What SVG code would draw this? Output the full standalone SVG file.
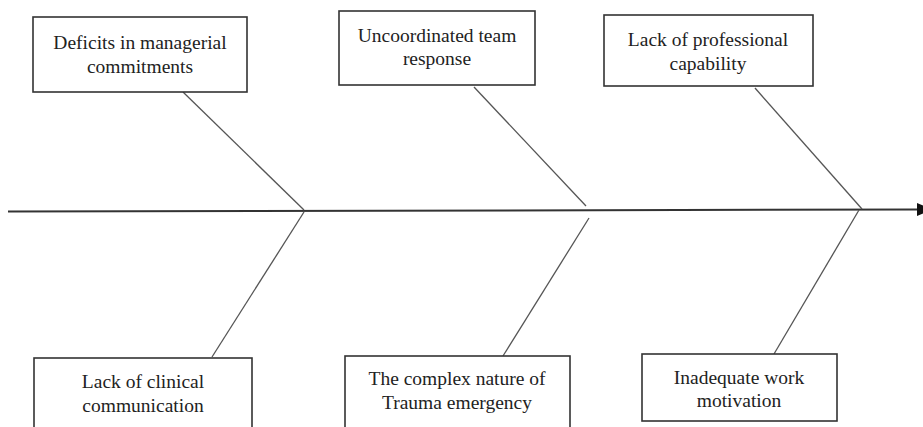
<svg xmlns="http://www.w3.org/2000/svg" width="923" height="427" viewBox="0 0 923 427">
<style>
.box{fill:#fff;stroke:#333;stroke-width:1.6}
.lbl{font-family:"Liberation Serif","Times New Roman",serif;font-size:19.5px;fill:#222;text-anchor:middle}
.bone{stroke:#555;stroke-width:1.3;fill:none}
.spine{stroke:#333;stroke-width:2;fill:none}
</style>
<rect width="923" height="427" fill="#fff"/>
<g id="connectors">
<line class="spine" x1="8" y1="211.5" x2="918" y2="209.5"/>
<polygon points="917,203 933,209.5 917,216" fill="#111"/>
<line class="bone" x1="183" y1="92" x2="304" y2="210"/>
<line class="bone" x1="304" y1="212" x2="212" y2="357"/>
<line class="bone" x1="474" y1="87" x2="586" y2="206"/>
<line class="bone" x1="589" y1="218" x2="503" y2="356"/>
<line class="bone" x1="755" y1="88" x2="862" y2="209"/>
<line class="bone" x1="859" y1="210" x2="774" y2="354"/>
</g>
<g id="node-managerial">
<rect class="box" x="33" y="17" width="214" height="75"/>
<text class="lbl" x="140" y="49">Deficits in managerial</text>
<text class="lbl" x="140" y="73">commitments</text>
</g>
<g id="node-team">
<rect class="box" x="339" y="11" width="196" height="74"/>
<text class="lbl" x="437" y="42">Uncoordinated team</text>
<text class="lbl" x="437" y="65">response</text>
</g>
<g id="node-capability">
<rect class="box" x="604" y="15" width="209" height="71"/>
<text class="lbl" x="708" y="46">Lack of professional</text>
<text class="lbl" x="708" y="70">capability</text>
</g>
<g id="node-communication">
<rect class="box" x="34" y="358" width="218" height="72"/>
<text class="lbl" x="143" y="388">Lack of clinical</text>
<text class="lbl" x="143" y="412">communication</text>
</g>
<g id="node-trauma">
<rect class="box" x="345" y="356" width="225" height="74"/>
<text class="lbl" x="457" y="385">The complex nature of</text>
<text class="lbl" x="457" y="409">Trauma emergency</text>
</g>
<g id="node-motivation">
<rect class="box" x="642" y="354" width="195" height="67"/>
<text class="lbl" x="739" y="384">Inadequate work</text>
<text class="lbl" x="739" y="407">motivation</text>
</g>
</svg>
